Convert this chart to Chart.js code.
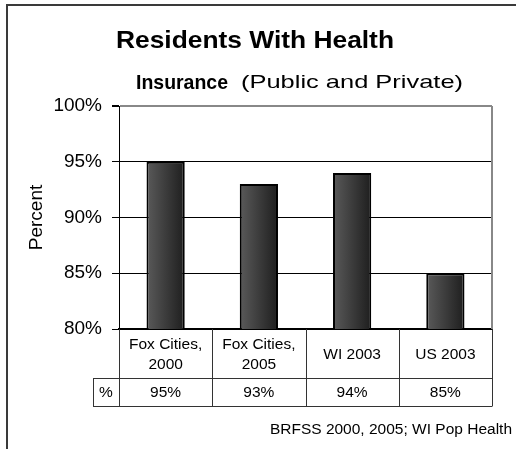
<!DOCTYPE html>
<html><head><meta charset="utf-8">
<script src="https://cdn.jsdelivr.net/npm/chart.js@4/dist/chart.umd.min.js"></script>
<style>html,body{margin:0;padding:0;background:#fff}#wrap{width:516px;height:449px;position:relative}</style>
</head><body><div id="wrap"><canvas id="c" width="516" height="449"></canvas></div>
<script>
const categories = [["Fox Cities,","2000"],["Fox Cities,","2005"],["WI 2003"],["US 2003"]];
const values = [95, 93, 94, 85];
const rowHeader = "%";
const yMin = 80, yMax = 100, yStep = 5;
const titleLine1 = "Residents With Health";
const titleLine2a = "Insurance";
const titleLine2b = "(Public and Private)";
const yTitle = "Percent";
const sourceNote = "BRFSS 2000, 2005; WI Pop Health";

const FONT = "'Liberation Sans', Arial, sans-serif";
const BAR_PCT = 0.41;

function barFill(c){
  const chart = c.chart; const xs = chart.scales && chart.scales.x;
  if(!xs || !chart.chartArea || c.dataIndex === undefined) return '#444';
  const cx = xs.getPixelForValue(c.dataIndex);
  const w = (xs.width / categories.length) * BAR_PCT;
  const g = chart.ctx.createLinearGradient(cx - w/2, 0, cx + w/2, 0);
  g.addColorStop(0, '#5a5a5a');
  g.addColorStop(1, '#1e1e1e');
  return g;
}

function fitText(ctx, text, x, y, width){
  const w = ctx.measureText(text).width;
  ctx.save(); ctx.translate(x, y); ctx.scale(width / w, 1); ctx.fillText(text, 0, 0); ctx.restore();
}

const decor = {
  id: 'decor',
  beforeDraw(chart){
    const ctx = chart.ctx;
    ctx.save();
    ctx.fillStyle = '#fff';
    ctx.fillRect(0,0,chart.width,chart.height);
    ctx.strokeStyle = '#3a3a3a'; ctx.lineWidth = 2;
    ctx.beginPath();
    ctx.moveTo(7, chart.height); ctx.lineTo(7, 5); ctx.lineTo(chart.width, 5);
    ctx.stroke();
    ctx.restore();
  },
  afterDraw(chart){
    const ctx = chart.ctx; const a = chart.chartArea; const xs = chart.scales.x;
    ctx.save();
    ctx.strokeStyle = '#888'; ctx.lineWidth = 2;
    ctx.beginPath(); ctx.moveTo(a.right, a.top); ctx.lineTo(a.right, a.bottom); ctx.stroke();
    // titles
    ctx.fillStyle = '#000';
    ctx.textBaseline = 'alphabetic';
    ctx.textAlign = 'left';
    ctx.font = 'bold 24px ' + FONT;
    fitText(ctx, titleLine1, 116, 48, 278);
    ctx.font = 'bold 21px ' + FONT;
    fitText(ctx, titleLine2a, 136, 89, 92);
    ctx.font = '19px ' + FONT;
    fitText(ctx, titleLine2b, 241, 88, 222);
    // data table
    const n = categories.length;
    const colW = xs.width / n;
    const top = a.bottom, mid = a.bottom + 49, bot = a.bottom + 77;
    const hdrLeft = a.left - 26;
    ctx.strokeStyle = '#333'; ctx.lineWidth = 1;
    ctx.beginPath();
    for(let i=0;i<n;i++){
      const x = Math.round(xs.getPixelForValue(i) - colW/2) + 0.5;
      ctx.moveTo(x, top); ctx.lineTo(x, bot);
    }
    const xr = Math.round(xs.getPixelForValue(n-1) + colW/2) + 0.5;
    ctx.moveTo(xr, top); ctx.lineTo(xr, bot);
    ctx.moveTo(hdrLeft + 0.5, mid); ctx.lineTo(hdrLeft + 0.5, bot);
    ctx.moveTo(hdrLeft, mid + 0.5); ctx.lineTo(xr, mid + 0.5);
    ctx.moveTo(hdrLeft, bot + 0.5); ctx.lineTo(xr, bot + 0.5);
    ctx.stroke();
    ctx.font = '15.5px ' + FONT;
    ctx.textAlign = 'center'; ctx.textBaseline = 'middle';
    ctx.fillStyle = '#000';
    const hdrMid = (top + mid) / 2 + 1;
    for(let i=0;i<n;i++){
      const cx = xs.getPixelForValue(i);
      const lines = categories[i];
      const lh = 20;
      lines.forEach((t, j) => {
        ctx.fillText(t, cx, hdrMid + (j - (lines.length - 1)/2) * lh);
      });
      ctx.fillText(values[i] + '%', cx, (mid + bot)/2 + 1);
    }
    ctx.fillText(rowHeader, (hdrLeft + a.left)/2, (mid + bot)/2 + 1);
    ctx.textAlign = 'right';
    ctx.fillText(sourceNote, 512, 430);
    ctx.restore();
  }
};

new Chart(document.getElementById('c'), {
  type: 'bar',
  data: {
    labels: categories,
    datasets: [{
      data: values,
      backgroundColor: barFill,
      borderColor: '#000',
      borderWidth: 2,
      barPercentage: BAR_PCT,
      categoryPercentage: 1
    }]
  },
  options: {
    responsive: false,
    animation: false,
    devicePixelRatio: 1,
    layout: { padding: { left: 0, right: 24, top: 106, bottom: 0 } },
    plugins: { legend: { display: false }, title: { display: false }, tooltip: { enabled: false } },
    scales: {
      x: {
        grid: { display: false },
        border: { display: true, color: '#000', width: 2 },
        ticks: { display: false },
        afterFit(s){ s.height = 120; }
      },
      y: {
        min: yMin, max: yMax,
        ticks: {
          stepSize: yStep,
          color: '#000',
          padding: 10,
          font: { family: FONT, size: 19 },
          callback: v => v + '%'
        },
        grid: {
          color: c => (c.tick && c.tick.value === yMax) ? '#888' : '#000',
          lineWidth: c => (c.tick && c.tick.value === yMax) ? 2 : 1,
          tickLength: 7,
          tickColor: '#000'
        },
        border: { display: true, color: '#000', width: 1 },
        title: {
          display: true, text: yTitle, color: '#000',
          font: { family: FONT, size: 19 },
          padding: { top: 25, bottom: 0 }
        },
        afterFit(s){ s.width = 119; }
      }
    }
  },
  plugins: [decor]
});
</script>
</body></html>
